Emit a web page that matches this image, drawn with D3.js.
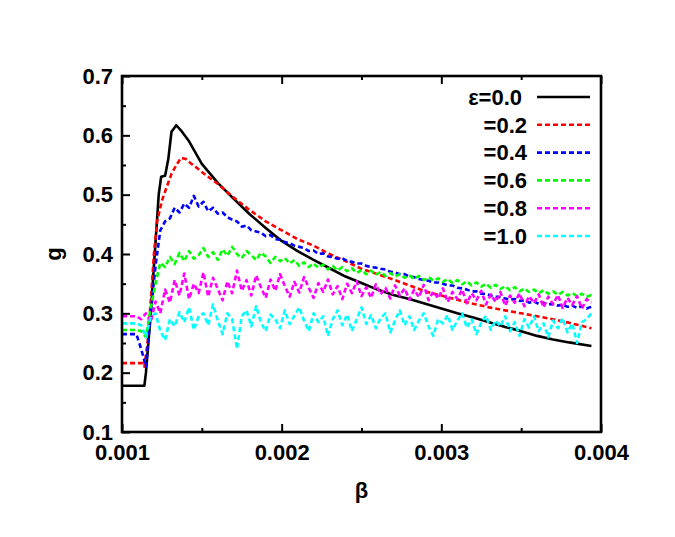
<!DOCTYPE html>
<html>
<head>
<meta charset="utf-8">
<script src="https://cdn.jsdelivr.net/npm/d3@7"></script>
<style>
  body { margin: 0; background: #fff; }
  svg { font-family: "Liberation Sans", Arial, sans-serif; }
</style>
</head>
<body>
<svg id="chart" width="675" height="537"></svg>
<script>
// smooth curves (eps = 0.0 and 0.2)
var blackBeta = [0.00100,0.00114,0.00115,0.00118,0.00121,0.00123,0.001245,0.00127,0.00129,0.00131,
  0.00134,0.00137,0.00142,0.00150,0.00160,0.00170,0.00180,0.00190,0.00200,0.00210,
  0.00220,0.00230,0.00240,0.00250,0.00260,0.00270,0.00280,0.00290,0.00300,0.00310,
  0.00320,0.00330,0.00340,0.00350,0.00360,0.00370,0.00380,0.00394];
var blackG = [0.178,0.178,0.20,0.30,0.42,0.50,0.530,0.532,0.56,0.606,
  0.617,0.608,0.590,0.552,0.520,0.493,0.467,0.444,0.422,0.405,
  0.390,0.376,0.362,0.351,0.340,0.331,0.324,0.316,0.308,0.300,
  0.293,0.285,0.277,0.270,0.262,0.256,0.251,0.245];

var redBeta = [0.00100,0.00113,0.00114,0.00116,0.00118,0.00120,0.00122,0.00125,0.00128,0.00131,
  0.00134,0.00137,0.00140,0.00143,0.00147,0.00151,0.00156,0.00161,0.00170,0.00180,
  0.00190,0.00200,0.00210,0.00220,0.00230,0.00240,0.00250,0.00260,0.00270,0.00280,
  0.00290,0.00300,0.00310,0.00320,0.00330,0.00340,0.00350,0.00360,0.00370,0.00380,0.00394];
var redG = [0.216,0.216,0.21,0.25,0.32,0.40,0.455,0.490,0.513,0.535,
  0.550,0.562,0.560,0.553,0.545,0.536,0.526,0.516,0.495,0.474,
  0.455,0.440,0.425,0.414,0.400,0.388,0.375,0.366,0.357,0.347,
  0.337,0.330,0.323,0.316,0.310,0.305,0.300,0.295,0.290,0.284,0.275];

// noisy curves share one beta grid
var betaGrid = [0.00100,0.00103,0.00106,0.00109,0.00112,0.00115,0.00118,0.00121,0.00124,0.00127,
  0.00130,0.00133,0.00136,0.00139,0.00142,0.00145,0.00148,0.00151,0.00154,0.00157,
  0.00160,0.00163,0.00166,0.00169,0.00172,0.00175,0.00178,0.00181,0.00184,0.00187,
  0.00190,0.00193,0.00196,0.00199,0.00202,0.00205,0.00208,0.00211,0.00214,0.00217,
  0.00220,0.00223,0.00226,0.00229,0.00232,0.00235,0.00238,0.00241,0.00244,0.00247,
  0.00250,0.00253,0.00256,0.00259,0.00262,0.00265,0.00268,0.00271,0.00274,0.00277,
  0.00280,0.00283,0.00286,0.00289,0.00292,0.00295,0.00298,0.00301,0.00304,0.00307,
  0.00310,0.00313,0.00316,0.00319,0.00322,0.00325,0.00328,0.00331,0.00334,0.00337,
  0.00340,0.00343,0.00346,0.00349,0.00352,0.00355,0.00358,0.00361,0.00364,0.00367,
  0.00370,0.00373,0.00376,0.00379,0.00382,0.00385,0.00388,0.00391,0.00394];

var blueG = [0.265,0.265,0.265,0.265,0.24,0.21,0.30,0.38,0.44,0.455,
  0.46,0.478,0.47,0.485,0.478,0.498,0.48,0.488,0.472,0.478,
  0.468,0.470,0.462,0.458,0.455,0.446,0.448,0.440,0.438,0.436,
  0.430,0.432,0.425,0.424,0.420,0.418,0.414,0.412,0.410,0.405,
  0.406,0.400,0.401,0.396,0.395,0.392,0.393,0.388,0.387,0.384,
  0.384,0.380,0.378,0.377,0.375,0.374,0.370,0.369,0.366,0.366,
  0.362,0.361,0.358,0.356,0.355,0.352,0.352,0.350,0.347,0.347,
  0.343,0.342,0.340,0.337,0.337,0.333,0.333,0.330,0.328,0.327,
  0.325,0.323,0.324,0.321,0.322,0.318,0.320,0.316,0.318,0.315,
  0.316,0.313,0.315,0.311,0.313,0.309,0.312,0.308,0.311];

var greenG = [0.272,0.272,0.272,0.272,0.27,0.26,0.31,0.35,0.385,0.378,
  0.395,0.383,0.402,0.388,0.405,0.392,0.398,0.410,0.395,0.403,
  0.390,0.408,0.397,0.412,0.400,0.393,0.405,0.398,0.390,0.402,
  0.396,0.385,0.395,0.388,0.393,0.384,0.390,0.380,0.386,0.378,
  0.384,0.377,0.382,0.374,0.380,0.372,0.378,0.371,0.376,0.368,
  0.373,0.366,0.372,0.365,0.370,0.363,0.368,0.362,0.366,0.360,
  0.364,0.358,0.363,0.356,0.361,0.355,0.359,0.353,0.358,0.351,
  0.356,0.349,0.354,0.347,0.352,0.345,0.350,0.343,0.348,0.341,
  0.346,0.339,0.344,0.337,0.342,0.336,0.340,0.334,0.339,0.333,
  0.337,0.331,0.336,0.330,0.334,0.329,0.333,0.328,0.331];

var magentaG = [0.295,0.295,0.295,0.295,0.29,0.30,0.285,0.32,0.30,0.34,
  0.318,0.356,0.330,0.367,0.324,0.350,0.334,0.369,0.328,0.360,
  0.341,0.322,0.354,0.334,0.372,0.338,0.356,0.330,0.364,0.344,
  0.326,0.357,0.338,0.366,0.346,0.328,0.353,0.335,0.361,0.343,
  0.326,0.351,0.336,0.357,0.332,0.346,0.324,0.350,0.334,0.354,
  0.329,0.344,0.326,0.349,0.332,0.343,0.325,0.347,0.330,0.342,
  0.323,0.340,0.327,0.348,0.322,0.337,0.325,0.342,0.319,0.336,
  0.324,0.340,0.317,0.334,0.322,0.338,0.315,0.332,0.319,0.336,
  0.313,0.330,0.318,0.334,0.312,0.329,0.317,0.332,0.310,0.328,
  0.315,0.331,0.309,0.326,0.314,0.329,0.308,0.324,0.318];

var cyanG = [0.283,0.283,0.283,0.283,0.28,0.26,0.295,0.30,0.27,0.255,
  0.29,0.278,0.302,0.285,0.31,0.272,0.295,0.30,0.28,0.315,
  0.288,0.265,0.30,0.29,0.24,0.295,0.305,0.278,0.312,0.285,
  0.27,0.298,0.29,0.275,0.305,0.282,0.296,0.31,0.288,0.27,
  0.30,0.285,0.295,0.262,0.29,0.305,0.28,0.298,0.27,0.29,
  0.31,0.282,0.297,0.275,0.292,0.30,0.268,0.288,0.305,0.28,
  0.295,0.272,0.288,0.30,0.278,0.262,0.29,0.283,0.297,0.272,
  0.288,0.30,0.276,0.29,0.265,0.284,0.296,0.272,0.288,0.278,
  0.295,0.27,0.285,0.262,0.29,0.276,0.295,0.27,0.283,0.26,
  0.288,0.275,0.292,0.268,0.283,0.25,0.285,0.29,0.30];

var legendLabels = ['\u03b5=0.0', '=0.2', '=0.4', '=0.6', '=0.8', '=1.0'];
var xTicks = [0.001, 0.002, 0.003, 0.004];
var xMinor = [0.0015, 0.0025, 0.0035];
var yTicks = [0.1, 0.2, 0.3, 0.4, 0.5, 0.6, 0.7];
var yMinor = [0.15, 0.25, 0.35, 0.45, 0.55, 0.65];

var svg = d3.select('#chart'),
    plotL = 122, plotR = 601, plotT = 76, plotB = 432,
    fontSize = '22px';

var x = d3.scaleLinear().domain([0.001, 0.004]).range([plotL, plotR]);
var y = d3.scaleLinear().domain([0.1, 0.7]).range([plotB, plotT]);

var series = [
  {beta: blackBeta, g: blackG, color: '#000000', dash: null},
  {beta: redBeta, g: redG, color: '#ff0000', dash: '5,3'},
  {beta: betaGrid, g: blueG, color: '#0000ff', dash: '5,3'},
  {beta: betaGrid, g: greenG, color: '#00ff00', dash: '5,3'},
  {beta: betaGrid, g: magentaG, color: '#ff00ff', dash: '5,3'},
  {beta: betaGrid, g: cyanG, color: '#00ffff', dash: '5,3'}
];

svg.append('clipPath').attr('id', 'clip')
  .append('rect').attr('x', plotL).attr('y', plotT)
  .attr('width', plotR - plotL).attr('height', plotB - plotT);

var line = d3.line()
  .x(function(d) { return x(d[0]); })
  .y(function(d) { return y(d[1]); });

var plot = svg.append('g').attr('clip-path', 'url(#clip)');
series.forEach(function(s) {
  var pts = s.beta.map(function(b, i) { return [b, s.g[i]]; });
  plot.append('path')
    .attr('d', line(pts))
    .attr('fill', 'none')
    .attr('stroke', s.color)
    .attr('stroke-width', 2.6)
    .attr('stroke-linejoin', 'round')
    .attr('stroke-dasharray', s.dash);
});

// axes, ticks pointing inward
function styleAxis(g) {
  g.select('.domain').remove();
  g.selectAll('line').attr('stroke', '#000').attr('stroke-width', 2);
  g.selectAll('text').attr('font-size', fontSize).attr('font-weight', 'bold')
    .attr('fill', '#000').attr('font-family', '"Liberation Sans", Arial, sans-serif');
}

svg.append('g').attr('transform', 'translate(0,' + plotB + ')')
  .call(d3.axisBottom(x).tickValues(xTicks).tickSize(-8).tickPadding(12).tickFormat(d3.format('.3f')))
  .call(styleAxis);
svg.append('g').attr('transform', 'translate(0,' + plotB + ')')
  .call(d3.axisBottom(x).tickValues(xMinor).tickSize(-4).tickFormat(''))
  .call(styleAxis);
svg.append('g').attr('transform', 'translate(0,' + plotT + ')')
  .call(d3.axisTop(x).tickValues(xTicks).tickSize(-8).tickFormat(''))
  .call(styleAxis);
svg.append('g').attr('transform', 'translate(0,' + plotT + ')')
  .call(d3.axisTop(x).tickValues(xMinor).tickSize(-4).tickFormat(''))
  .call(styleAxis);
svg.append('g').attr('transform', 'translate(' + plotL + ',0)')
  .call(d3.axisLeft(y).tickValues(yTicks).tickSize(-8).tickPadding(9).tickFormat(d3.format('.1f')))
  .call(styleAxis);
svg.append('g').attr('transform', 'translate(' + plotL + ',0)')
  .call(d3.axisLeft(y).tickValues(yMinor).tickSize(-4).tickFormat(''))
  .call(styleAxis);

svg.append('rect')
  .attr('x', plotL).attr('y', plotT)
  .attr('width', plotR - plotL).attr('height', plotB - plotT)
  .attr('fill', 'none').attr('stroke', '#000').attr('stroke-width', 2.6);

// axis titles
svg.append('text')
  .attr('x', (plotL + plotR) / 2).attr('y', 498)
  .attr('text-anchor', 'middle')
  .attr('font-size', fontSize).attr('font-weight', 'bold')
  .text('\u03b2');
svg.append('text')
  .attr('transform', 'translate(61,254) rotate(-90)')
  .attr('text-anchor', 'middle')
  .attr('font-size', fontSize).attr('font-weight', 'bold')
  .text('g');

// legend
var legend = svg.append('g');
series.forEach(function(s, i) {
  var ly = 97 + i * 27.8;
  legend.append('text')
    .attr('x', i == 0 ? 522 : 527).attr('y', ly)
    .attr('dy', '0.35em')
    .attr('text-anchor', 'end')
    .attr('font-size', fontSize).attr('font-weight', 'bold')
    .text(legendLabels[i]);
  legend.append('line')
    .attr('x1', 537).attr('x2', 590)
    .attr('y1', ly).attr('y2', ly)
    .attr('stroke', s.color)
    .attr('stroke-width', 2.6)
    .attr('stroke-dasharray', s.dash);
});
</script>
</body>
</html>
